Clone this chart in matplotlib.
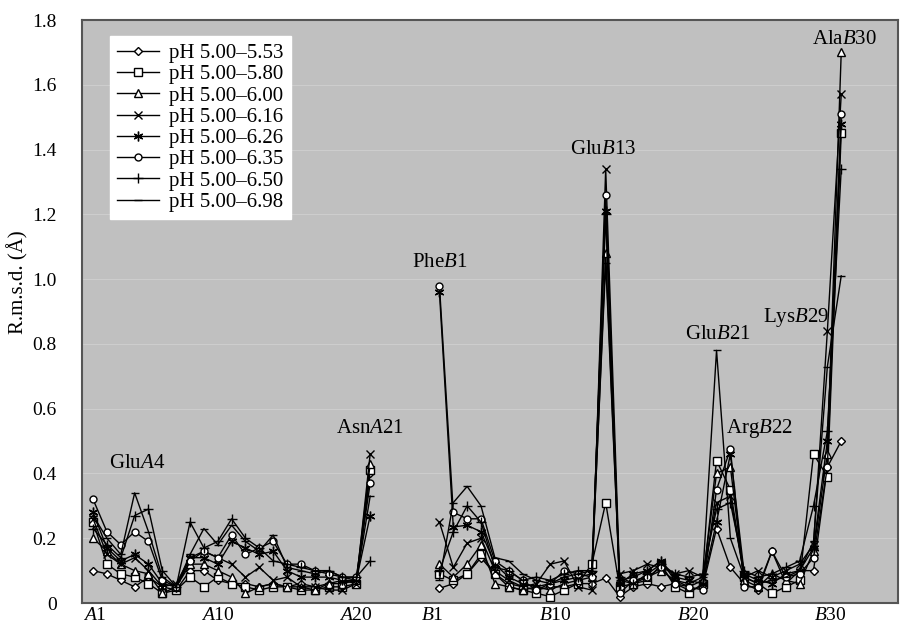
import numpy as np
import matplotlib.pyplot as plt

plt.rcParams['font.family'] = ['Liberation Serif', 'DejaVu Serif']
plt.rcParams['mathtext.fontset'] = 'custom'
plt.rcParams['mathtext.rm'] = 'Liberation Serif'
plt.rcParams['mathtext.it'] = 'Liberation Serif:italic'

# chain A residues 1-21, chain B residues 1-30
res_a = np.arange(1, 22)
res_b = np.arange(1, 31)

labels = ['pH 5.00–5.53', 'pH 5.00–5.80', 'pH 5.00–6.00', 'pH 5.00–6.16',
          'pH 5.00–6.26', 'pH 5.00–6.35', 'pH 5.00–6.50', 'pH 5.00–6.98']

# r.m.s.d. values, chain A
a_553 = [0.10, 0.09, 0.07, 0.05, 0.08, 0.05, 0.04, 0.10, 0.10, 0.07, 0.06,
         0.06, 0.05, 0.06, 0.05, 0.06, 0.05, 0.06, 0.07, 0.06, 0.40]
a_580 = [0.25, 0.12, 0.09, 0.08, 0.06, 0.03, 0.04, 0.08, 0.05, 0.08, 0.06,
         0.05, 0.04, 0.05, 0.05, 0.04, 0.04, 0.05, 0.05, 0.06, 0.41]
a_600 = [0.20, 0.16, 0.12, 0.10, 0.09, 0.03, 0.05, 0.12, 0.12, 0.10, 0.08,
         0.03, 0.05, 0.06, 0.05, 0.05, 0.04, 0.06, 0.06, 0.07, 0.43]
a_616 = [0.26, 0.15, 0.12, 0.14, 0.10, 0.05, 0.06, 0.14, 0.16, 0.14, 0.12,
         0.08, 0.11, 0.07, 0.08, 0.05, 0.05, 0.04, 0.04, 0.06, 0.46]
a_626 = [0.28, 0.17, 0.13, 0.15, 0.12, 0.06, 0.05, 0.14, 0.14, 0.12, 0.19,
         0.17, 0.15, 0.16, 0.10, 0.08, 0.08, 0.08, 0.07, 0.07, 0.27]
a_635 = [0.32, 0.22, 0.18, 0.22, 0.19, 0.07, 0.05, 0.13, 0.16, 0.14, 0.21,
         0.15, 0.17, 0.19, 0.12, 0.12, 0.10, 0.09, 0.08, 0.08, 0.37]
a_650 = [0.23, 0.18, 0.14, 0.27, 0.29, 0.10, 0.05, 0.25, 0.17, 0.19, 0.26,
         0.20, 0.17, 0.13, 0.12, 0.11, 0.10, 0.10, 0.08, 0.08, 0.13]
a_698 = [0.27, 0.20, 0.15, 0.34, 0.22, 0.08, 0.05, 0.15, 0.23, 0.18, 0.24,
         0.19, 0.16, 0.21, 0.11, 0.10, 0.09, 0.10, 0.08, 0.07, 0.33]

# r.m.s.d. values, chain B
b_553 = [0.045, 0.06, 0.09, 0.14, 0.09, 0.06, 0.05, 0.04, 0.05, 0.05, 0.06, 0.06,
         0.077, 0.02, 0.05, 0.06, 0.05, 0.06, 0.04, 0.05, 0.23, 0.11, 0.06, 0.04,
         0.16, 0.06, 0.10, 0.10, 0.42, 0.50]
b_580 = [0.09, 0.07, 0.09, 0.15, 0.09, 0.05, 0.04, 0.03, 0.02, 0.04, 0.06, 0.12,
         0.31, 0.05, 0.06, 0.07, 0.12, 0.05, 0.03, 0.06, 0.44, 0.35, 0.08, 0.06,
         0.03, 0.05, 0.07, 0.46, 0.39, 1.45]
b_600 = [0.12, 0.08, 0.12, 0.18, 0.06, 0.05, 0.04, 0.05, 0.04, 0.06, 0.07, 0.08,
         1.08, 0.07, 0.06, 0.08, 0.10, 0.07, 0.05, 0.07, 0.40, 0.42, 0.07, 0.05,
         0.09, 0.07, 0.06, 0.16, 0.46, 1.70]
b_616 = [0.25, 0.11, 0.185, 0.20, 0.10, 0.07, 0.05, 0.06, 0.12, 0.13, 0.05, 0.04,
         1.34, 0.09, 0.10, 0.12, 0.11, 0.09, 0.10, 0.08, 0.31, 0.33, 0.08, 0.10,
         0.08, 0.10, 0.12, 0.18, 0.84, 1.57]
b_626 = [0.96, 0.235, 0.24, 0.22, 0.12, 0.08, 0.06, 0.05, 0.06, 0.07, 0.08, 0.09,
         1.21, 0.06, 0.09, 0.10, 0.13, 0.08, 0.07, 0.06, 0.25, 0.46, 0.09, 0.07,
         0.06, 0.09, 0.10, 0.17, 0.50, 1.48]
b_635 = [0.98, 0.28, 0.26, 0.26, 0.13, 0.10, 0.07, 0.04, 0.06, 0.10, 0.09, 0.08,
         1.26, 0.03, 0.07, 0.08, 0.11, 0.06, 0.05, 0.04, 0.35, 0.475, 0.05, 0.05,
         0.16, 0.08, 0.09, 0.14, 0.42, 1.51]
b_650 = [0.10, 0.22, 0.30, 0.25, 0.11, 0.10, 0.07, 0.08, 0.07, 0.09, 0.10, 0.10,
         1.20, 0.08, 0.06, 0.09, 0.12, 0.09, 0.08, 0.09, 0.29, 0.31, 0.10, 0.08,
         0.09, 0.11, 0.13, 0.30, 0.53, 1.34]
b_698 = [0.07, 0.31, 0.36, 0.30, 0.14, 0.13, 0.09, 0.07, 0.06, 0.08, 0.09, 0.10,
         1.05, 0.07, 0.08, 0.10, 0.13, 0.07, 0.06, 0.08, 0.78, 0.20, 0.08, 0.06,
         0.07, 0.08, 0.10, 0.19, 0.73, 1.01]

chain_a = [a_553, a_580, a_600, a_616, a_626, a_635, a_650, a_698]
chain_b = [b_553, b_580, b_600, b_616, b_626, b_635, b_650, b_698]

# residue annotations: (text, chain, residue, height)
notes = [(r'Glu$\mathit{A}$4', 'A', 4.2, 0.43),
         (r'Asn$\mathit{A}$21', 'A', 21.0, 0.54),
         (r'Phe$\mathit{B}$1', 'B', 1.0, 1.05),
         (r'Glu$\mathit{B}$13', 'B', 12.8, 1.40),
         (r'Glu$\mathit{B}$21', 'B', 21.1, 0.83),
         (r'Arg$\mathit{B}$22', 'B', 24.1, 0.54),
         (r'Lys$\mathit{B}$29', 'B', 26.7, 0.88),
         (r'Ala$\mathit{B}$30', 'B', 30.2, 1.74)]

markers = ['D', 's', '^', 'x', (6, 2, 0), 'o', '+', '_']
msizes = [4, 6, 6, 6, 7, 5, 7, 6]

# x positions: A1..A21 -> 0..20, B1..B30 -> 25..54
xa = res_a - 1
xb = res_b + 24

fig = plt.figure(figsize=(9.02, 6.29), dpi=100)
ax = fig.add_axes([0.0909, 0.0413, 0.9047, 0.9269])
ax.set_facecolor('#c0c0c0')

for i in range(8):
    style = dict(color='black', lw=1.0, marker=markers[i], ms=msizes[i],
                 mfc='white', mec='black', mew=1.0)
    if i == 4:
        style['mfc'] = 'black'
    ax.plot(xa, chain_a[i], label=labels[i], **style)
    ax.plot(xb, chain_b[i], **style)

for txt, ch, r, h in notes:
    x = r - 1 if ch == 'A' else r + 24
    ax.text(x, h, txt, ha='center', va='center', fontsize=15)

ax.set_xlim(-0.8, 58.1)
ax.set_ylim(0, 1.8)
ax.set_yticks(np.arange(0, 1.81, 0.2))
ax.set_yticklabels(['0'] + ['%.1f' % v for v in np.arange(0.2, 1.81, 0.2)], fontsize=14)
ax.set_xticks([0.1, 9, 19, 24.5, 33.4, 43.3, 53.2])
ax.set_xticklabels([r'$\mathit{A}$1', r'$\mathit{A}$10', r'$\mathit{A}$20',
                    r'$\mathit{B}$1', r'$\mathit{B}$10', r'$\mathit{B}$20',
                    r'$\mathit{B}$30'], fontsize=14)
ax.tick_params(length=0)
ax.tick_params(axis='y', pad=18)
ax.tick_params(axis='x', pad=3)
ax.set_ylabel('R.m.s.d. (Å)', fontsize=15, labelpad=0)
ax.yaxis.set_label_coords(-0.066, 0.55)
ax.yaxis.grid(True, color='#cdcdcd', lw=0.8)
ax.set_axisbelow(True)
for s in ax.spines.values():
    s.set_color('#555555')
    s.set_linewidth(1.5)

leg = ax.legend(loc='upper left', bbox_to_anchor=(0.034, 0.972), borderaxespad=0,
                fontsize=15, frameon=True, fancybox=False, handlelength=2.0,
                labelspacing=0.08, borderpad=0.35, handletextpad=0.5)
leg.get_frame().set_facecolor('white')
leg.get_frame().set_edgecolor('white')
leg.get_frame().set_alpha(1)

fig.savefig('out.png', dpi=100)
